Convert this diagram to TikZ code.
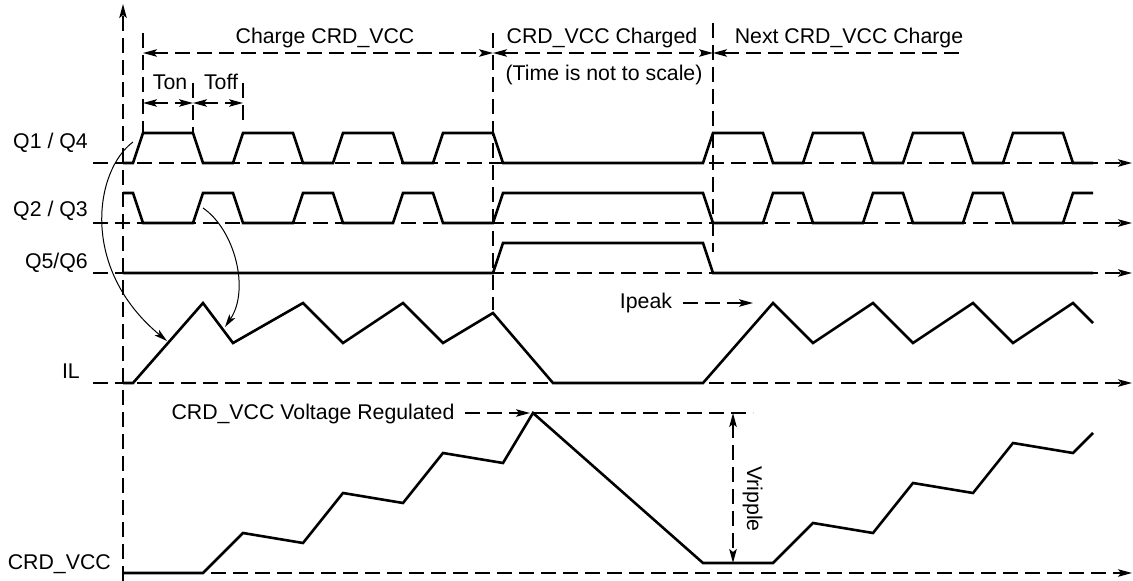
\documentclass[tikz,border=0pt]{standalone}
\usepackage{fontspec}
\setmainfont{Liberation Sans}
\usetikzlibrary{arrows.meta}
\begin{document}
\begin{tikzpicture}[x=1pt,y=-1pt,
  wave/.style={line width=2.6pt, line join=miter},
  guide/.style={line width=1.3pt, dash pattern=on 15pt off 7pt},
  thin guide/.style={line width=1.1pt, dash pattern=on 15pt off 7pt},
  tipR/.style={-{Stealth[length=14pt,width=7.5pt,inset=3pt]}},
  tipLR/.style={{Stealth[length=14pt,width=7.5pt,inset=3pt]}-{Stealth[length=14pt,width=7.5pt,inset=3pt]}},
  tipL/.style={{Stealth[length=14pt,width=7.5pt,inset=3pt]}-},
  curve/.style={line width=1pt, -{Stealth[length=13pt,width=7pt,inset=3pt]}},
  lbl/.style={inner sep=0pt, font=\fontsize{21.3}{25}\selectfont},
]
\useasboundingbox (0,0) rectangle (1133,581);

% ---------- axes ----------
\coordinate (yb) at (123,581);
\coordinate (yt) at (123,4);
\draw[guide,tipR] (yb) -- (yt);
\coordinate (a1s) at (93,163);  \coordinate (a1e) at (1132,163);
\coordinate (a2s) at (93,223);  \coordinate (a2e) at (1132,223);
\coordinate (a3s) at (93,273);  \coordinate (a3e) at (1132,273);
\coordinate (a4s) at (93,383);  \coordinate (a4e) at (1132,383);
\coordinate (a5s) at (123,573); \coordinate (a5e) at (1132,573);
\draw[guide,tipR] (a1s) -- (a1e);
\draw[guide,tipR] (a2s) -- (a2e);
\draw[guide,tipR] (a3s) -- (a3e);
\draw[guide,tipR] (a4s) -- (a4e);
\draw[guide,tipR] (a5s) -- (a5e);

% ---------- vertical guide lines ----------
\draw[thin guide] (143,33) -- (143,133);
\draw[thin guide] (193,83) -- (193,133);
\draw[thin guide] (243,83) -- (243,124);
\draw[thin guide] (493,33) -- (493,310);
\draw[thin guide] (713,23) -- (713,252);

% ---------- dimension arrows ----------
\coordinate (d0) at (143,53); \coordinate (d1) at (493,53);
\coordinate (d2) at (713,53); \coordinate (d3) at (963,53);
\draw[guide,tipLR] (d0) -- (d1);
\draw[guide,tipLR] (d1) -- (d2);
\draw[guide,tipL] (d2) -- (d3);
\coordinate (t0) at (143,103); \coordinate (t1) at (193,103); \coordinate (t2) at (243,103);
\draw[guide,tipLR] (t0) -- (t1);
\draw[guide,tipLR] (t1) -- (t2);

% ---------- waveforms ----------
% Q1/Q4
\draw[wave] (123,163)--(133,163)--(143,133)--(193,133)--(203,163)--(233,163)--(243,133)--(293,133)--(303,163)--(333,163)--(343,133)--(393,133)--(403,163)--(433,163)--(443,133)--(493,133)--(503,163)--(703,163)--(713,133)--(763,133)--(773,163)--(803,163)--(813,133)--(863,133)--(873,163)--(903,163)--(913,133)--(963,133)--(973,163)--(1003,163)--(1013,133)--(1063,133)--(1073,163)--(1093,163);
% Q2/Q3
\draw[wave] (123,193)--(133,193)--(143,223)--(193,223)--(203,193)--(233,193)--(243,223)--(293,223)--(303,193)--(333,193)--(343,223)--(393,223)--(403,193)--(433,193)--(443,223)--(493,223)--(503,193)--(703,193)--(713,223)--(763,223)--(773,193)--(803,193)--(813,223)--(863,223)--(873,193)--(903,193)--(913,223)--(963,223)--(973,193)--(1003,193)--(1013,223)--(1063,223)--(1073,193)--(1093,193);
% Q5/Q6
\draw[wave] (123,273)--(493,273)--(503,243)--(703,243)--(713,273)--(1093,273);
% IL
\draw[wave] (123,383)--(133,383)--(203,303)--(233,343)--(303,303)--(343,343)--(403,303)--(443,343)--(493,313)--(553,383)--(703,383)--(773,303)--(813,343)--(873,303)--(913,343)--(973,303)--(1013,343)--(1073,303)--(1093,323);
% CRD_VCC
\draw[wave] (123,573)--(203,573)--(243,533)--(303,543)--(343,493)--(403,503)--(443,453)--(503,463)--(533,413)--(703,563)--(773,563)--(813,523)--(873,533)--(913,483)--(973,493)--(1013,443)--(1073,453)--(1093,433);

% ---------- curved arrows ----------
\coordinate (c1s) at (133,142); \coordinate (c1e) at (167,341);
\draw[curve] (c1s) .. controls (95,170) and (79,268) .. (c1e);
\coordinate (c2s) at (203,208); \coordinate (c2e) at (225,327);
\draw[curve] (c2s) .. controls (235,230) and (250,290) .. (c2e);

% ---------- labels ----------
\node[lbl, anchor=base east] (lq1) at (88,148) {Q1 / Q4};
\node[lbl, anchor=base east] (lq2) at (88,216) {Q2 / Q3};
\node[lbl, anchor=base east] (lq5) at (88,268) {Q5/Q6};
\node[lbl, anchor=base east] (lil) at (80,378) {IL};
\node[lbl, anchor=base east] (lvc) at (111,569) {CRD\_VCC};

\node[lbl, anchor=base] (lcharge) at (325,43) {Charge CRD\_VCC};
\node[lbl, anchor=base] (lcharged) at (602,43) {CRD\_VCC Charged};
\node[lbl, anchor=base] (lnext) at (849,43) {Next CRD\_VCC Charge};
\node[lbl, anchor=base] (lscale) at (604,80) {(Time is not to scale)};
\node[lbl, anchor=base] (lton) at (170,89) {Ton};
\node[lbl, anchor=base] (ltoff) at (221,89) {Toff};

\node[lbl, anchor=base] (lipeak) at (646,308) {Ipeak};
\coordinate (ips) at (683,303);
\coordinate (ipe) at (753,303);
\draw[guide,tipR] (ips) -- (ipe);

\node[lbl, anchor=base] (lreg) at (313,419) {CRD\_VCC Voltage Regulated};
\coordinate (regs) at (465,413);
\coordinate (rege) at (530,413);
\draw[guide,tipR] (regs) -- (rege);
\coordinate (rl1) at (533,413); \coordinate (rl2) at (753,413);
\draw[guide] (rl1) -- (rl2);

\coordinate (vr1) at (733,413); \coordinate (vr2) at (733,563);
\draw[guide,tipLR] (vr1) -- (vr2);
\node[lbl, rotate=-90, anchor=base] (lvr) at (747,499) {Vripple};
\end{tikzpicture}
\end{document}
